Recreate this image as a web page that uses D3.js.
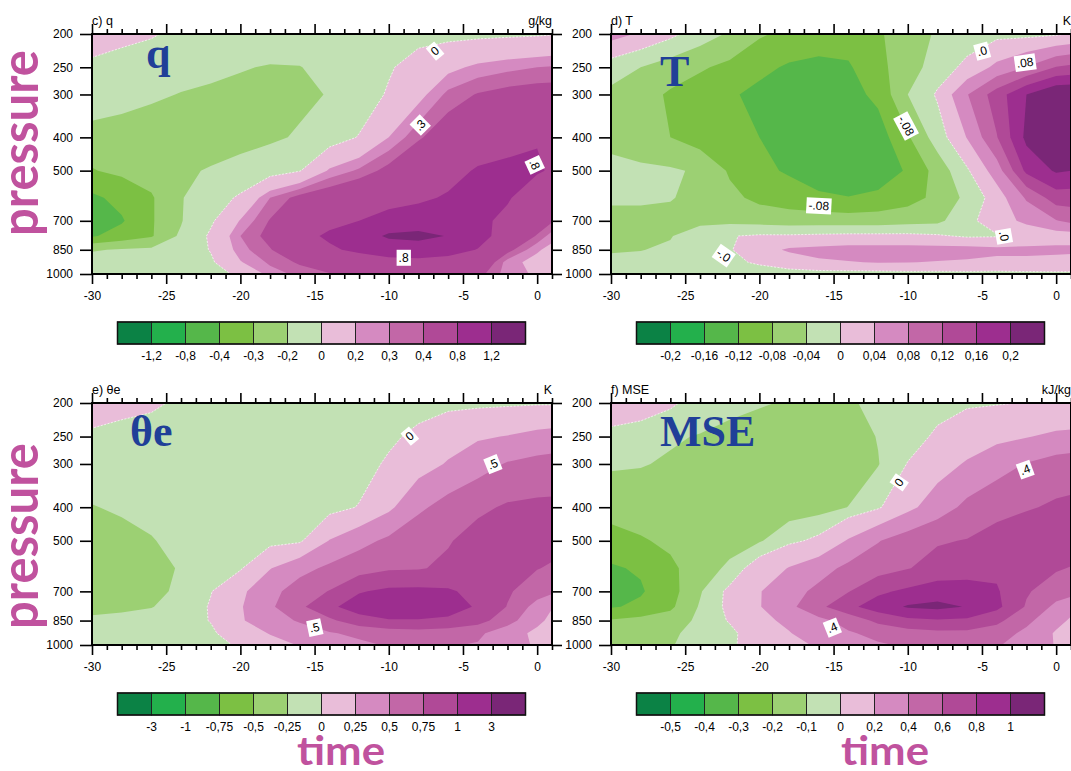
<!DOCTYPE html>
<html><head><meta charset="utf-8">
<script src="https://cdn.jsdelivr.net/npm/d3@7"></script>
<style>
body{margin:0;background:#fff}
svg{display:block}
</style>
</head><body>
<svg id="chart" width="1071" height="771"></svg>
<script>
// ---------- data ----------
const times = [-30,-28,-26,-24,-22,-20,-18,-16,-14,-12,-10,-8,-6,-4,-2,0,1];
const levels = [200,250,300,400,500,600,700,775,850,925,1000];
const pressureTicks = [200,250,300,400,500,700,850,1000];
const timeTicks = [-30,-25,-20,-15,-10,-5,0];

const colors = ["#0b8245","#23b04c","#55b74a","#7cc043","#9cd073","#c2e1b4",
                "#e9bdd9","#d58ac1","#c267a7","#b04997","#9d2e8f","#7a2677"];

const qThresholds  = [-1.2,-0.8,-0.4,-0.3,-0.2,0,0.2,0.3,0.4,0.8,1.2];
const qBarLabels   = ["-1,2","-0,8","-0,4","-0,3","-0,2","0","0,2","0,3","0,4","0,8","1,2"];
const tThresholds  = [-0.2,-0.16,-0.12,-0.08,-0.04,0,0.04,0.08,0.12,0.16,0.2];
const tBarLabels   = ["-0,2","-0,16","-0,12","-0,08","-0,04","0","0,04","0,08","0,12","0,16","0,2"];
const thThresholds = [-3,-1,-0.75,-0.5,-0.25,0,0.25,0.5,0.75,1,3];
const thBarLabels  = ["-3","-1","-0,75","-0,5","-0,25","0","0,25","0,5","0,75","1","3"];
const mseThresholds= [-0.5,-0.4,-0.3,-0.2,-0.1,0,0.2,0.4,0.6,0.8,1];
const mseBarLabels = ["-0,5","-0,4","-0,3","-0,2","-0,1","0","0,2","0,4","0,6","0,8","1"];

// rows: pressure levels (200 -> 1000), columns: times (-30 -> 1)
const qValues = [
 [0.12,0.07,0.02,-0.05,-0.1,-0.1,-0.1,-0.1,-0.1,-0.1,-0.08,-0.06,-0.05,-0.04,-0.03,-0.02,-0.01],
 [-0.05,-0.1,-0.12,-0.15,-0.17,-0.19,-0.21,-0.205,-0.15,-0.08,-0.02,0.08,0.16,0.23,0.27,0.3,0.31],
 [-0.12,-0.15,-0.18,-0.205,-0.22,-0.24,-0.25,-0.24,-0.19,-0.1,0.02,0.15,0.33,0.41,0.45,0.47,0.47],
 [-0.25,-0.26,-0.27,-0.27,-0.26,-0.25,-0.23,-0.18,-0.09,0.01,0.2,0.38,0.5,0.62,0.72,0.79,0.78],
 [-0.305,-0.28,-0.26,-0.22,-0.19,-0.15,-0.08,-0.01,0.22,0.32,0.45,0.58,0.7,0.83,0.85,0.82,0.78],
 [-0.42,-0.37,-0.31,-0.21,-0.1,0.03,0.3,0.45,0.52,0.6,0.68,0.75,0.83,0.86,0.82,0.68,0.6],
 [-0.55,-0.41,-0.31,-0.21,-0.03,0.21,0.41,0.6,0.72,0.8,0.92,0.95,0.9,0.85,0.75,0.55,0.42],
 [-0.41,-0.36,-0.31,-0.18,0.03,0.3,0.45,0.7,0.85,1.0,1.26,1.32,1.18,0.9,0.68,0.38,0.25],
 [-0.21,-0.19,-0.18,-0.12,0.01,0.26,0.39,0.55,0.75,0.87,0.95,0.97,0.9,0.79,0.45,0.22,0.15],
 [-0.15,-0.15,-0.12,-0.08,-0.03,0.19,0.32,0.42,0.5,0.6,0.7,0.72,0.7,0.6,0.25,0.15,0.12],
 [-0.12,-0.12,-0.1,-0.08,-0.04,0.02,0.25,0.33,0.39,0.45,0.5,0.52,0.5,0.45,0.25,0.18,0.15]
];
const tValues = [
 [0.055,0.035,0.01,-0.02,-0.045,-0.075,-0.09,-0.1,-0.1,-0.085,-0.06,-0.035,-0.02,-0.01,-0.01,-0.005,0.002],
 [-0.02,-0.04,-0.06,-0.075,-0.09,-0.11,-0.125,-0.13,-0.125,-0.09,-0.06,-0.02,0.01,0.05,0.082,0.122,0.13],
 [-0.05,-0.065,-0.085,-0.1,-0.115,-0.13,-0.14,-0.145,-0.135,-0.11,-0.04,0.005,0.078,0.14,0.2,0.24,0.24],
 [-0.05,-0.065,-0.08,-0.1,-0.11,-0.12,-0.15,-0.16,-0.155,-0.14,-0.085,-0.02,0.042,0.118,0.21,0.26,0.26],
 [-0.03,-0.032,-0.035,-0.045,-0.085,-0.11,-0.125,-0.15,-0.16,-0.145,-0.115,-0.065,-0.005,0.06,0.17,0.205,0.2],
 [-0.035,-0.035,-0.038,-0.05,-0.07,-0.09,-0.1,-0.11,-0.118,-0.11,-0.095,-0.07,-0.03,0.02,0.085,0.14,0.14],
 [-0.05,-0.05,-0.05,-0.05,-0.05,-0.055,-0.06,-0.06,-0.06,-0.06,-0.055,-0.05,-0.01,0.02,0.05,0.078,0.09],
 [-0.045,-0.045,-0.042,-0.02,-0.002,0.005,0.005,0.008,0.01,0.01,0.01,0.005,-0.005,-0.003,0.01,0.02,0.02],
 [-0.042,-0.041,-0.035,-0.02,-0.003,0.025,0.045,0.05,0.055,0.055,0.055,0.055,0.055,0.05,0.05,0.05,0.05],
 [-0.035,-0.03,-0.025,-0.015,-0.008,0.005,0.02,0.035,0.038,0.042,0.041,0.038,0.035,0.03,0.03,0.025,0.02],
 [-0.02,-0.02,-0.02,-0.02,-0.02,-0.018,-0.015,-0.015,-0.015,-0.015,-0.012,-0.012,-0.01,-0.01,-0.008,-0.006,-0.005]
];
const thetaEValues = [
 [0.15,0.1,0.04,-0.04,-0.08,-0.1,-0.1,-0.1,-0.1,-0.1,-0.1,-0.08,-0.05,-0.04,-0.03,-0.02,-0.02],
 [-0.05,-0.1,-0.1,-0.1,-0.1,-0.1,-0.12,-0.12,-0.1,-0.08,-0.04,0.05,0.15,0.22,0.26,0.32,0.34],
 [-0.12,-0.13,-0.15,-0.16,-0.17,-0.18,-0.18,-0.16,-0.13,-0.08,0.03,0.15,0.27,0.4,0.52,0.58,0.6],
 [-0.26,-0.22,-0.2,-0.19,-0.18,-0.17,-0.15,-0.12,-0.07,0.01,0.2,0.45,0.6,0.7,0.78,0.8,0.8],
 [-0.35,-0.32,-0.26,-0.2,-0.15,-0.1,-0.06,-0.03,0.26,0.42,0.55,0.68,0.73,0.85,0.9,0.88,0.85],
 [-0.4,-0.38,-0.33,-0.23,-0.1,-0.02,0.24,0.42,0.55,0.65,0.72,0.73,0.8,0.85,0.82,0.76,0.72],
 [-0.42,-0.4,-0.32,-0.2,-0.01,0.2,0.42,0.62,0.76,0.98,1.05,1.06,1.03,0.93,0.78,0.62,0.55],
 [-0.33,-0.3,-0.26,-0.15,0.02,0.23,0.46,0.7,0.95,1.12,1.2,1.2,1.12,0.97,0.74,0.4,0.26],
 [-0.2,-0.18,-0.15,-0.1,0.01,0.22,0.42,0.52,0.7,0.9,0.98,0.98,0.95,0.85,0.6,0.3,0.2],
 [-0.15,-0.14,-0.12,-0.08,-0.04,0.15,0.26,0.4,0.48,0.55,0.62,0.65,0.62,0.55,0.35,0.2,0.2],
 [-0.12,-0.12,-0.1,-0.08,-0.05,0.02,0.18,0.26,0.35,0.45,0.52,0.53,0.52,0.48,0.35,0.22,0.22]
];
const mseValues = [
 [0.12,0.08,0.02,-0.05,-0.07,-0.09,-0.11,-0.13,-0.11,-0.08,-0.06,-0.04,-0.02,-0.01,0.005,0.01,0.01],
 [-0.05,-0.07,-0.09,-0.105,-0.13,-0.15,-0.17,-0.17,-0.15,-0.095,-0.05,0.02,0.1,0.15,0.19,0.24,0.25],
 [-0.09,-0.095,-0.11,-0.13,-0.15,-0.17,-0.18,-0.18,-0.16,-0.105,0.005,0.12,0.22,0.33,0.41,0.48,0.5],
 [-0.15,-0.15,-0.15,-0.15,-0.15,-0.15,-0.15,-0.14,-0.098,-0.02,0.15,0.3,0.45,0.52,0.58,0.63,0.64],
 [-0.25,-0.21,-0.18,-0.15,-0.14,-0.11,-0.03,0.03,0.22,0.39,0.5,0.58,0.61,0.7,0.75,0.75,0.74],
 [-0.31,-0.29,-0.22,-0.15,-0.08,0.08,0.21,0.32,0.45,0.52,0.59,0.68,0.72,0.76,0.7,0.62,0.59],
 [-0.36,-0.31,-0.24,-0.11,0.03,0.19,0.32,0.45,0.59,0.76,0.84,0.9,0.88,0.82,0.62,0.5,0.48],
 [-0.31,-0.28,-0.22,-0.09,0.03,0.19,0.35,0.55,0.75,0.9,1.02,1.05,0.99,0.85,0.58,0.35,0.25],
 [-0.19,-0.17,-0.15,-0.08,0.01,0.15,0.24,0.35,0.47,0.65,0.75,0.78,0.76,0.65,0.45,0.25,0.18],
 [-0.15,-0.13,-0.11,-0.08,-0.03,0.08,0.19,0.3,0.38,0.45,0.52,0.55,0.55,0.5,0.35,0.18,0.15],
 [-0.12,-0.12,-0.105,-0.07,-0.02,0.06,0.15,0.22,0.3,0.38,0.42,0.45,0.45,0.42,0.3,0.19,0.18]
];

// contour line labels (time, pressure, text, rotation)
const qContourLabels = [
 {t:-6.9,p:224,text:"0",angle:-40},{t:-7.9,p:368,text:".3",angle:-45},
 {t:-0.15,p:480,text:".8",angle:65},{t:-9.0,p:895,text:".8",angle:0}];
const tContourLabels = [
 {t:-5.0,p:224,text:".0",angle:-15},{t:-2.1,p:242,text:".08",angle:-8},
 {t:-10.1,p:370,text:"-.08",angle:62},{t:-16.0,p:632,text:"-.08",angle:3},
 {t:-22.4,p:882,text:"-.0",angle:35},{t:-3.5,p:776,text:".0",angle:80}];
const thContourLabels = [
 {t:-8.6,p:249,text:"0",angle:-40},{t:-3.0,p:300,text:".5",angle:-22},
 {t:-15.0,p:889,text:".5",angle:-12}];
const mseContourLabels = [
 {t:-10.6,p:339,text:"0",angle:-55},{t:-2.1,p:311,text:".4",angle:-20},
 {t:-15.1,p:889,text:".4",angle:-22}];

// ---------- layout ----------
const panels = [
 {title:"c) q", unit:"g/kg", big:"q", values:qValues, thresholds:qThresholds, bar:qBarLabels, labels:qContourLabels, left:92, top:34, h:240, bigDx:54, bigY:68},
 {title:"d) T", unit:"K", big:"T", values:tValues, thresholds:tThresholds, bar:tBarLabels, labels:tContourLabels, left:611, top:34, h:240, bigDx:49, bigY:86},
 {title:"e) θe", unit:"K", big:"θe", values:thetaEValues, thresholds:thThresholds, bar:thBarLabels, labels:thContourLabels, left:92, top:403, h:242, bigDx:38, bigY:446},
 {title:"f) MSE", unit:"kJ/kg", big:"MSE", values:mseValues, thresholds:mseThresholds, bar:mseBarLabels, labels:mseContourLabels, left:611, top:403, h:242, bigDx:49, bigY:446}
];
const PW = 460;
const FONT = "'Liberation Sans', Arial, Helvetica, sans-serif";

const svg = d3.select("#chart");
const defs = svg.append("defs");

panels.forEach((P, pi) => {
  const x = d3.scaleLinear().domain([times[0], times[times.length-1]]).range([P.left, P.left+PW]);
  const y = d3.scaleLog().domain([levels[0], levels[levels.length-1]]).range([P.top, P.top+P.h]);
  const n = times.length, m = levels.length;

  const mapX = c => {
    const g = Math.max(0, Math.min(n-1, c-0.5));
    const i0 = Math.floor(g), i1 = Math.min(i0+1, n-1), f = g-i0;
    return x(times[i0]) + f*(x(times[i1]) - x(times[i0]));
  };
  const mapY = c => {
    const g = Math.max(0, Math.min(m-1, c-0.5));
    const j0 = Math.floor(g), j1 = Math.min(j0+1, m-1), f = g-j0;
    return y(levels[j0]) + f*(y(levels[j1]) - y(levels[j0]));
  };
  const toPath = geom => geom.coordinates.map(poly => poly.map(ring =>
      "M" + ring.map(pt => mapX(pt[0]).toFixed(2)+","+mapY(pt[1]).toFixed(2)).join("L") + "Z").join("")).join("");

  const clipId = "clip"+pi;
  defs.append("clipPath").attr("id", clipId).append("rect")
    .attr("x", P.left).attr("y", P.top).attr("width", PW).attr("height", P.h);

  const g = svg.append("g");
  const cg = g.append("g").attr("clip-path", `url(#${clipId})`);
  cg.append("rect").attr("x", P.left).attr("y", P.top).attr("width", PW).attr("height", P.h).attr("fill", colors[0]);

  const contours = d3.contours().size([n, m]).thresholds(P.thresholds)(P.values.flat());
  contours.forEach(c => {
    const k = P.thresholds.indexOf(c.value);
    cg.append("path").attr("d", toPath(c)).attr("fill", colors[k+1]).attr("fill-rule", "evenodd");
  });
  // thin white zero line
  contours.filter(c => c.value === 0).forEach(c => {
    cg.append("path").attr("d", toPath(c)).attr("fill", "none")
      .attr("stroke", "#fff").attr("stroke-width", 0.8).attr("stroke-dasharray", "2,1.5").attr("opacity", 0.85);
  });

  // contour labels
  P.labels.forEach(L => {
    const lg = cg.append("g").attr("transform", `translate(${x(L.t)},${y(L.p)}) rotate(${L.angle})`);
    const tx = lg.append("text").text(L.text).attr("text-anchor", "middle").attr("dy", "0.36em")
      .attr("font-family", FONT).attr("font-size", 12).attr("fill", "#000");
    const bb = tx.node().getBBox();
    lg.insert("rect", "text").attr("x", bb.x-2).attr("y", bb.y-1).attr("width", bb.width+4).attr("height", bb.height+2).attr("fill", "#fff");
  });

  // big inset label
  g.append("text").attr("x", P.left + P.bigDx).attr("y", P.bigY).text(P.big)
    .attr("font-family", "'Liberation Serif', 'Times New Roman', serif").attr("font-weight", "bold")
    .attr("font-size", 44).attr("fill", "#203f98");

  // axes
  const minor = d3.range(times[0], times[times.length-1]+1, 1).filter(v => !timeTicks.includes(v));
  const styleAxis = sel => {
    sel.select(".domain").remove();
    sel.selectAll(".tick line").attr("stroke", "#000").attr("stroke-width", 1.6);
    sel.selectAll(".tick text").attr("font-family", FONT).attr("font-size", 12).attr("fill", "#000");
  };
  g.append("g").attr("transform", `translate(0,${P.top+P.h})`)
    .call(d3.axisBottom(x).tickValues(timeTicks).tickSize(10).tickPadding(7).tickFormat(d => String(d))).call(styleAxis);
  g.append("g").attr("transform", `translate(0,${P.top+P.h})`)
    .call(d3.axisBottom(x).tickValues(minor).tickSize(5).tickFormat("")).call(styleAxis);
  g.append("g").attr("transform", `translate(0,${P.top})`)
    .call(d3.axisTop(x).tickValues(timeTicks).tickSize(10).tickFormat("")).call(styleAxis);
  g.append("g").attr("transform", `translate(0,${P.top})`)
    .call(d3.axisTop(x).tickValues(minor).tickSize(5).tickFormat("")).call(styleAxis);
  g.append("g").attr("transform", `translate(${P.left},0)`)
    .call(d3.axisLeft(y).tickValues(pressureTicks).tickSize(12).tickPadding(7).tickFormat(d => String(d))).call(styleAxis);
  g.append("g").attr("transform", `translate(${P.left+PW},0)`)
    .call(d3.axisRight(y).tickValues(pressureTicks).tickSize(10).tickFormat("")).call(styleAxis);

  // frame
  g.append("rect").attr("x", P.left).attr("y", P.top).attr("width", PW).attr("height", P.h)
    .attr("fill", "none").attr("stroke", "#000").attr("stroke-width", 2);

  // titles
  g.append("text").attr("x", P.left).attr("y", P.top-9).text(P.title)
    .attr("font-family", FONT).attr("font-size", 12.5).attr("fill", "#000");
  g.append("text").attr("x", P.left+PW).attr("y", P.top-9).text(P.unit).attr("text-anchor", "end")
    .attr("font-family", FONT).attr("font-size", 12.5).attr("fill", "#000");

  // colorbar
  const cbTop = P.top + P.h + 48;
  const cbLeft = P.left + 25.5;
  const cb = d3.scaleBand().domain(d3.range(colors.length)).range([cbLeft, cbLeft+408]);
  const cbg = g.append("g");
  cbg.selectAll("rect.box").data(colors).join("rect").attr("class", "box")
    .attr("x", (d,i) => cb(i)).attr("y", cbTop).attr("width", cb.bandwidth()).attr("height", 22)
    .attr("fill", d => d).attr("stroke", "#222").attr("stroke-width", 1);
  cbg.append("rect").attr("x", cbLeft).attr("y", cbTop).attr("width", 408).attr("height", 22)
    .attr("fill", "none").attr("stroke", "#111").attr("stroke-width", 1.5);
  cbg.selectAll("text").data(P.bar).join("text")
    .attr("x", (d,i) => cb(i+1)).attr("y", cbTop + 38).attr("text-anchor", "middle")
    .attr("font-family", FONT).attr("font-size", 12).attr("fill", "#000").text(d => d);
});

// axis names
const pink = "#c0529e";
[143, 536].forEach(cy => {
  svg.append("text").attr("transform", `translate(38,${cy}) rotate(-90)`).attr("text-anchor", "middle")
    .attr("font-family", "Lato, 'Open Sans', sans-serif").attr("font-weight", 700).attr("font-size", 52)
    .attr("textLength", 186).attr("lengthAdjust", "spacingAndGlyphs").attr("fill", pink).text("pressure");
});
[341, 885].forEach(cx => {
  svg.append("text").attr("x", cx).attr("y", 765).attr("text-anchor", "middle")
    .attr("font-family", "Lato, 'Open Sans', sans-serif").attr("font-weight", 700).attr("font-size", 40)
    .attr("textLength", 88).attr("lengthAdjust", "spacingAndGlyphs").attr("fill", pink).text("time");
});
</script>
</body></html>
